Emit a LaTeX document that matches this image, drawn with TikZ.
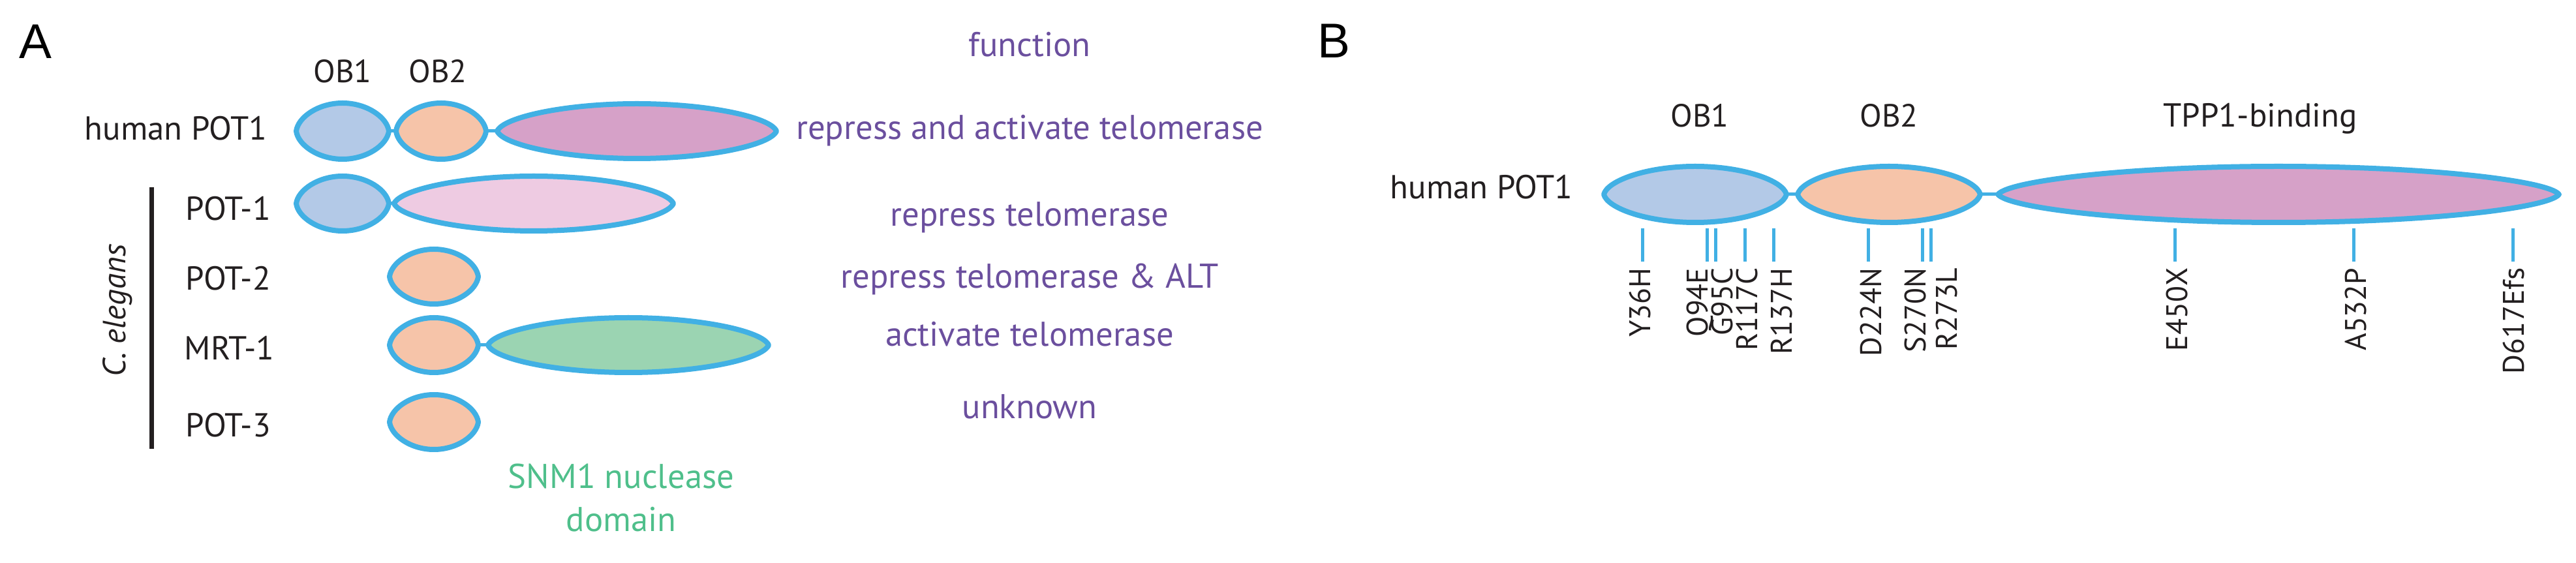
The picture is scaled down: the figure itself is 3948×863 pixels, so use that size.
\documentclass[tikz,border=0pt]{standalone}
\usepackage{fontspec}
\setmainfont{PT Sans}
\newfontfamily\panelfont{Liberation Sans}
\usetikzlibrary{positioning}
\definecolor{potline}{HTML}{41B0E4}
\definecolor{obone}{HTML}{B3C9E7}
\definecolor{obtwo}{HTML}{F6C4A9}
\definecolor{tppfill}{HTML}{D6A1C8}
\definecolor{potonefill}{HTML}{EECBE2}
\definecolor{snmfill}{HTML}{9BD4B2}
\definecolor{funcpurple}{HTML}{6B4F9E}
\definecolor{snmgreen}{HTML}{4FBF8B}
\definecolor{inkblack}{HTML}{231F20}
\tikzset{
	oval/.style={draw=potline, line width=0.8mm, line join=round},
	linker/.style={draw=potline, line width=0.5mm},
	site/.style={draw=potline, line width=0.5mm, shorten >=0.9mm},
	protein/.style={text=inkblack, inner sep=0, font=\fontsize{14.5}{17}\selectfont},
	head/.style={text=inkblack, inner sep=0, anchor=base, font=\fontsize{14}{16}\selectfont},
	func/.style={text=funcpurple, inner sep=0, font=\fontsize{15}{18}\selectfont},
	mutation/.style={text=inkblack, inner sep=0, rotate=90, anchor=east, text depth=0pt, font=\fontsize{13}{15}\selectfont},
	panel/.style={text=black, inner sep=0, anchor=base west, font=\panelfont\fontsize{21.3}{24}\selectfont}
}
% pointed oval: name, x, y, rx, ry, fill
\newcommand{\lens}[6]{%
	\coordinate (#1) at (#2,#3);
	\coordinate (#1-w) at (#2-#4,#3);
	\coordinate (#1-e) at (#2+#4,#3);
	\draw[oval, fill=#6] (#1-w)
		.. controls +(0.04*#4,-0.5*#5) and +(-0.52*#4,0) .. (#2,#3-#5)
		.. controls +(0.52*#4,0) and +(-0.04*#4,-0.5*#5) .. (#1-e)
		.. controls +(-0.04*#4,0.5*#5) and +(0.52*#4,0) .. (#2,#3+#5)
		.. controls +(-0.52*#4,0) and +(0.04*#4,0.5*#5) .. (#1-w) -- cycle;
}
\begin{document}
\begin{tikzpicture}[x=0.1mm, y=-0.1mm]
	\useasboundingbox (0,0) rectangle (3948,863);
	
	% panel A
	\node[panel] (pa) at (29,90) {A};
	\node[head] (aob1) at (525,127) {OB1};
	\node[head] (aob2) at (671,127) {OB2};
	\node[func, anchor=base] (fhead) at (1578,87) {function};
	
	\node[protein, anchor=base east] (hpot) at (410,215) {human POT1};
	\lens{hOB1}{525}{201}{71}{43}{obone}
	\lens{hOB2}{676}{201}{69}{43}{obtwo}
	\lens{hTPP}{976}{201}{214}{42}{tppfill}
	\draw[linker] (hOB1-e) -- (hOB2-w);
	\draw[linker] (hOB2-e) -- (hTPP-w);
	\node[func, anchor=base] (fhpot) at (1578,214) {repress and activate telomerase};
	
	\coordinate (bartop) at (232,287);
	\coordinate (barbot) at (232,688);
	\draw[inkblack, line width=0.7mm] (bartop) -- (barbot);
	\node[protein, rotate=90, anchor=base, font=\fontsize{14}{16}\selectfont\itshape] (celeg) at (192,476) {C. elegans};
	
	\node[protein, anchor=base west] (pot1) at (284,338) {POT-1};
	\lens{cOB1}{525}{312}{71}{42}{obone}
	\lens{cPOT}{818}{312}{214}{42}{potonefill}
	\draw[linker] (cOB1-e) -- (cPOT-w);
	\node[func, anchor=base] (fpot1) at (1578,347) {repress telomerase};
	
	\node[protein, anchor=base west] (pot2) at (284,445) {POT-2};
	\lens{pOB2}{665}{424}{68}{42}{obtwo}
	\node[func, anchor=base] (fpot2) at (1578,442) {repress telomerase \& ALT};
	
	\node[protein, anchor=base west] (mrt1) at (282,552) {MRT-1};
	\lens{mOB2}{665}{529}{68}{42}{obtwo}
	\lens{mSNM}{963}{529}{215}{42}{snmfill}
	\draw[linker] (mOB2-e) -- (mSNM-w);
	\node[func, anchor=base] (fmrt1) at (1578,531) {activate telomerase};
	
	\node[protein, anchor=base west] (pot3) at (284,670) {POT-3};
	\lens{tOB2}{665}{647}{68}{42}{obtwo}
	\node[func, anchor=base] (fpot3) at (1578,642) {unknown};
	
	\node[func, text=snmgreen, anchor=base] (snm) at (952,748) {SNM1 nuclease};
	\node[func, text=snmgreen, anchor=base] (snmdom) at (952,815) {domain};
	
	% panel B
	\node[panel] (pb) at (2019,89) {B};
	\node[head] (bob1) at (2605,195) {OB1};
	\node[head] (bob2) at (2895,195) {OB2};
	\node[protein, anchor=base] (btpp) at (3464,195) {TPP1-binding};
	
	\node[protein, anchor=base east] (bpot) at (2411,305) {human POT1};
	\lens{bOB1}{2598}{298}{140}{43}{obone}
	\lens{bOB2}{2895}{298}{140}{43}{obtwo}
	\lens{bTPP}{3492}{298}{430}{43}{tppfill}
	\draw[linker] (bOB1-e) -- (bOB2-w);
	\draw[linker] (bOB2-e) -- (bTPP-w);
	
	% mutation sites
	\coordinate (s36) at (2517,350);
	\coordinate (s94) at (2616,350);
	\coordinate (s95) at (2629,350);
	\coordinate (s117) at (2674,350);
	\coordinate (s137) at (2718,350);
	\coordinate (s224) at (2863,350);
	\coordinate (s270) at (2946,350);
	\coordinate (s273) at (2959,350);
	\coordinate (s450) at (3333,350);
	\coordinate (s532) at (3607,350);
	\coordinate (s617) at (3851,350);
	
	\node[mutation] (y36h) at (2513,410) {Y36H};
	\node[mutation] (q94e) at (2601,410) {Q94E};
	\node[mutation] (g95c) at (2639,410) {G95C};
	\node[mutation] (r117c) at (2677,410) {R117C};
	\node[mutation] (r137h) at (2730,410) {R137H};
	\node[mutation] (d224n) at (2867,410) {D224N};
	\node[mutation] (s270n) at (2935,410) {S270N};
	\node[mutation] (r273l) at (2983,410) {R273L};
	\node[mutation] (e450x) at (3336,410) {E450X};
	\node[mutation] (a532p) at (3610,410) {A532P};
	\node[mutation] (d617e) at (3852,410) {D617Efs};
	
	\draw[site] (s36) -- (s36 |- y36h.east);
	\draw[site] (s94) -- (s94 |- q94e.east);
	\draw[site] (s95) -- (s95 |- g95c.east);
	\draw[site] (s117) -- (s117 |- r117c.east);
	\draw[site] (s137) -- (s137 |- r137h.east);
	\draw[site] (s224) -- (s224 |- d224n.east);
	\draw[site] (s270) -- (s270 |- s270n.east);
	\draw[site] (s273) -- (s273 |- r273l.east);
	\draw[site] (s450) -- (s450 |- e450x.east);
	\draw[site] (s532) -- (s532 |- a532p.east);
	\draw[site] (s617) -- (s617 |- d617e.east);
\end{tikzpicture}
\end{document}
